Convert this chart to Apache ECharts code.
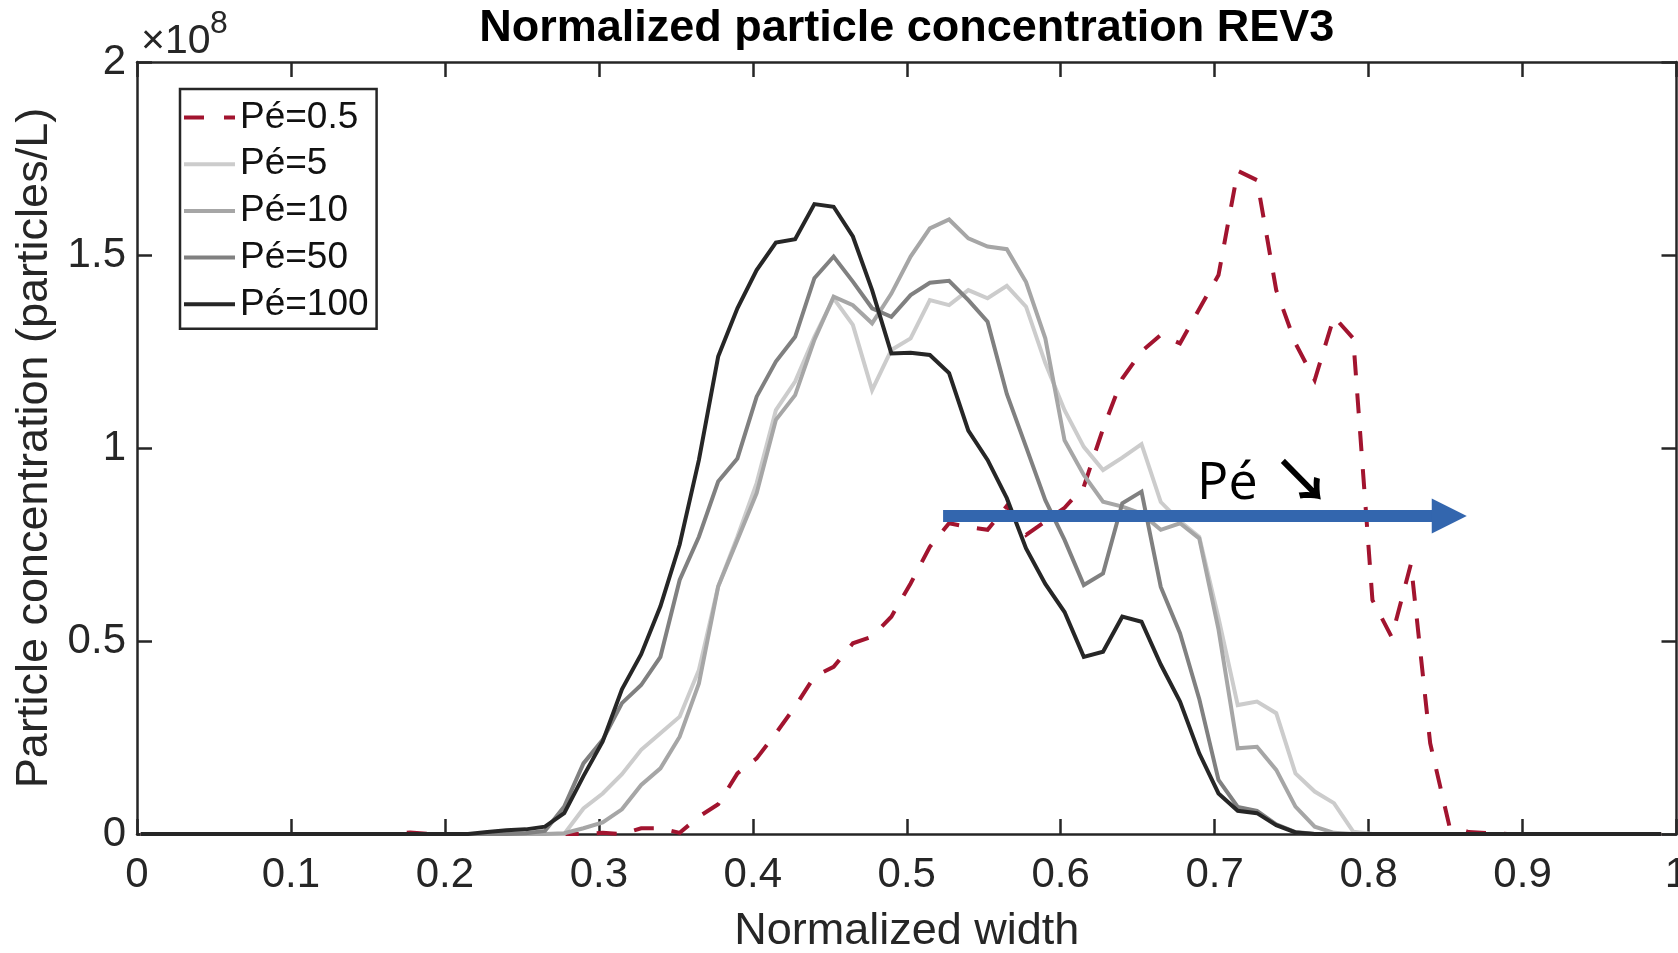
<!DOCTYPE html>
<html>
<head>
<meta charset="utf-8">
<script src="https://cdn.jsdelivr.net/npm/echarts@6/dist/echarts.min.js"></script>
<style>
html,body{margin:0;padding:0;background:#ffffff;}
#main{width:1678px;height:953px;}
</style>
</head>
<body>
<div id="main"></div>
<script>
// ---------------- DATA (concentration in units of 1e8 particles/L) ----------------
const widthPos = [
  0.0025,0.015,0.0275,0.04,0.0525,0.065,0.0775,0.09,0.1025,0.115,
  0.1275,0.14,0.1525,0.165,0.1775,0.19,0.2025,0.215,0.2275,0.24,
  0.2525,0.265,0.2775,0.29,0.3025,0.315,0.3275,0.34,0.3525,0.365,
  0.3775,0.39,0.4025,0.415,0.4275,0.44,0.4525,0.465,0.4775,0.49,
  0.5025,0.515,0.5275,0.54,0.5525,0.565,0.5775,0.59,0.6025,0.615,
  0.6275,0.64,0.6525,0.665,0.6775,0.69,0.7025,0.715,0.7275,0.74,
  0.7525,0.765,0.7775,0.79,0.8025,0.815,0.8275,0.84,0.8525,0.865,
  0.8775,0.89,0.9025,0.915,0.9275,0.94,0.9525,0.965,0.9775,0.99
];
const seriesNames = ['Pé=0.5','Pé=5','Pé=10','Pé=50','Pé=100'];
const pe0_5 = [
  0,0,0,0,0,0,0,0,0,0,
  0,0,0,0,0.004,0,0,0,0,0,
  0,0,0,0,0.003,0,0.015,0.015,0.003,0.045,
  0.077,0.157,0.196,0.261,0.33,0.408,0.433,0.494,0.511,0.563,
  0.649,0.744,0.805,0.795,0.788,0.85,0.775,0.81,0.845,0.90,
  1.05,1.18,1.25,1.293,1.271,1.36,1.448,1.718,1.694,1.409,
  1.271,1.176,1.34,1.284,0.606,0.51,0.70,0.235,0.02,0.005,
  0.002,0,0,0,0,0,0,0,0,0
];
const pe5 = [
  0,0,0,0,0,0,0,0,0,0,
  0,0,0,0,0,0,0,0,0,0,
  0,0,0,0.066,0.105,0.155,0.218,0.261,0.304,0.425,
  0.641,0.77,0.909,1.098,1.172,1.288,1.388,1.319,1.15,1.254,
  1.284,1.383,1.37,1.409,1.388,1.42,1.366,1.22,1.098,1.003,
  0.943,0.975,1.01,0.86,0.81,0.77,0.56,0.334,0.343,0.313,
  0.157,0.11,0.08,0.006,0,0,0,0,0,0,
  0,0,0,0,0,0,0,0,0,0
];
const pe10 = [
  0,0,0,0,0,0,0,0,0,0,
  0,0,0,0,0,0,0,0,0,0,
  0,0,0.002,0.015,0.03,0.064,0.127,0.17,0.252,0.39,
  0.641,0.762,0.883,1.073,1.137,1.28,1.392,1.37,1.323,1.40,
  1.496,1.569,1.592,1.543,1.522,1.515,1.43,1.284,1.02,0.93,
  0.861,0.848,0.83,0.788,0.805,0.766,0.53,0.222,0.226,0.166,
  0.071,0.019,0.003,0,0,0,0,0,0,0,
  0,0,0,0,0,0,0,0,0,0
];
const pe50 = [
  0,0,0,0,0,0,0,0,0,0,
  0,0,0,0,0,0,0,0,0,0,
  0.002,0.008,0.071,0.183,0.244,0.339,0.386,0.459,0.658,0.77,
  0.913,0.973,1.133,1.224,1.288,1.44,1.496,1.431,1.362,1.34,
  1.396,1.428,1.433,1.383,1.327,1.14,1.003,0.865,0.762,0.645,
  0.675,0.857,0.887,0.64,0.52,0.35,0.14,0.07,0.06,0.025,
  0.005,0,0,0,0,0,0,0,0,0,
  0,0,0,0,0,0,0,0,0,0
];
const pe100 = [
  0,0,0,0,0,0,0,0,0,0,
  0,0,0,0,0,0,0,0,0.005,0.01,
  0.012,0.019,0.054,0.15,0.24,0.375,0.466,0.59,0.75,0.969,
  1.237,1.362,1.461,1.532,1.541,1.632,1.625,1.548,1.409,1.245,
  1.247,1.241,1.194,1.045,0.969,0.87,0.74,0.648,0.575,0.459,
  0.472,0.563,0.55,0.439,0.343,0.209,0.105,0.06,0.054,0.023,
  0.004,0,0,0,0,0,0,0,0,0,
  0,0,0,0,0,0,0,0,0,0
];
const xTickLabels = ['0','0.1','0.2','0.3','0.4','0.5','0.6','0.7','0.8','0.9','1'];
const yTickLabels = ['0','0.5','1','1.5','2'];
const yExponent = '8';
// annotation arrow (data coordinates) and its label
const arrowX = [0.5236, 0.8524];
const arrowY = 0.824;
const annotPos = [0.6886, 0.906];
const annotGlyphPos = [0.7565, 0.916];
const annotText = 'Pé';
const annotGlyph = '↘';
const titleText = 'Normalized particle concentration REV3';

// ---------------- STYLE ----------------
const FONT = '"Liberation Sans", Arial, Helvetica, sans-serif';
const AX = '#262626';
const colors = ['#a2142f', '#cccccc', '#a6a6a6', '#808080', '#262626'];
const lineTypes = [[20, 18], 'solid', 'solid', 'solid', 'solid'];
const LW = 4;
const solidIcon = 'path://M0,0 M0,16.5 h51 v4 h-51 Z M51,37';
const dashIcon = 'path://M0,0 M0,16.5 h20 v4 h-20 Z M40,16.5 h11 v4 h-11 Z M51,37';
const legendIcons = [dashIcon, solidIcon, solidIcon, solidIcon, solidIcon];

const allValues = [pe0_5, pe5, pe10, pe50, pe100];

const chart = echarts.init(document.getElementById('main'), null, {renderer: 'canvas'});

function axisCommon(pos, showLabel) {
  return {
    type: 'value',
    position: pos,
    axisLine: {show: true, onZero: false, lineStyle: {color: AX, width: 2.5}},
    axisTick: {show: true, inside: true, length: 15, lineStyle: {color: AX, width: 2.5}},
    splitLine: {show: false},
    axisLabel: {show: showLabel}
  };
}

const xBottom = Object.assign(axisCommon('bottom', true), {
  min: 0, max: 1, interval: 0.1,
  axisLabel: {
    show: true, fontSize: 42, color: AX, fontFamily: FONT, margin: 20,
    showMinLabel: true, showMaxLabel: true,
    formatter: (v) => xTickLabels[Math.round(v * 10)]
  },
  name: 'Normalized width', nameLocation: 'middle', nameGap: 75,
  nameTextStyle: {fontSize: 45, color: AX, fontFamily: FONT}
});
const xTop = Object.assign(axisCommon('top', false), {min: 0, max: 1, interval: 0.1});
const yLeft = Object.assign(axisCommon('left', true), {
  min: 0, max: 2, interval: 0.5,
  axisLabel: {
    show: true, fontSize: 42, color: AX, fontFamily: FONT, margin: 11,
    showMinLabel: true, showMaxLabel: true,
    formatter: (v) => yTickLabels[Math.round(v * 2)]
  },
  name: 'Particle concentration (particles/L)', nameLocation: 'middle', nameGap: 75, nameRotate: 90,
  nameTextStyle: {fontSize: 45, color: AX, fontFamily: FONT}
});
const yRight = Object.assign(axisCommon('right', false), {min: 0, max: 2, interval: 0.5});

const series = seriesNames.map((name, k) => ({
  name: name,
  type: 'line',
  xAxisIndex: 0,
  yAxisIndex: 0,
  data: widthPos.map((x, i) => [x, allValues[k][i]]),
  symbol: 'none',
  showSymbol: false,
  smooth: false,
  animation: false,
  lineStyle: {color: colors[k], width: LW, type: lineTypes[k], cap: 'butt', join: 'miter'},
  itemStyle: {color: colors[k]},
  emphasis: {disabled: true}
}));

series[series.length - 1].markLine = {
  silent: true,
  animation: false,
  symbol: ['none', 'triangle'],
  symbolSize: [35, 35],
  label: {show: false},
  lineStyle: {color: '#3366ae', width: 12, type: 'solid'},
  itemStyle: {color: '#3366ae'},
  emphasis: {disabled: true},
  data: [[{coord: [arrowX[0], arrowY]}, {coord: [arrowX[1], arrowY]}]]
};

const option = {
  animation: false,
  backgroundColor: '#ffffff',
  grid: {left: 137, right: 1.5, top: 62, bottom: 119, containLabel: false, outerBoundsMode: 'none'},
  xAxis: [xBottom, xTop],
  yAxis: [yLeft, yRight],
  legend: {
    data: seriesNames.map((n, k) => ({name: n, icon: legendIcons[k]})),
    orient: 'vertical',
    left: 180, top: 89,
    padding: [10, 8, 6, 4],
    itemWidth: 51, itemHeight: 37, itemGap: 9.7,
    borderColor: AX, borderWidth: 2.5,
    backgroundColor: '#ffffff',
    selectedMode: false,
    textStyle: {fontSize: 37, color: '#111111', fontFamily: FONT}
  },
  series: series
};
chart.setOption(option);

const tl = chart.convertToPixel({xAxisIndex: 0, yAxisIndex: 0}, [0, 2]);
const br = chart.convertToPixel({xAxisIndex: 0, yAxisIndex: 0}, [1, 0]);
const ap = chart.convertToPixel({xAxisIndex: 0, yAxisIndex: 0}, annotPos);
const gp = chart.convertToPixel({xAxisIndex: 0, yAxisIndex: 0}, annotGlyphPos);

chart.setOption({
  graphic: [
    {type: 'text', x: (tl[0] + br[0]) / 2, y: 29, silent: true,
     style: {text: titleText, fontSize: 45, fontWeight: 'bold', fontFamily: FONT, fill: '#000000',
             align: 'center', verticalAlign: 'middle'}},
    {type: 'text', x: tl[0] + 4, y: 41.5, silent: true,
     style: {text: '×10', fontSize: 41, fontFamily: FONT, fill: AX, align: 'left', verticalAlign: 'middle'}},
    {type: 'text', x: tl[0] + 73, y: 24, silent: true,
     style: {text: yExponent, fontSize: 32, fontFamily: FONT, fill: AX, align: 'left', verticalAlign: 'middle'}},
    {type: 'text', x: ap[0], y: ap[1], silent: true, z: 20,
     style: {text: annotText, fontSize: 52, fontFamily: '"Open Sans", "DejaVu Sans", sans-serif', fill: '#000000',
             align: 'left', verticalAlign: 'middle'}},
    {type: 'text', x: gp[0], y: gp[1], silent: true, z: 20,
     style: {text: annotGlyph, fontSize: 58, fontWeight: 'bold', fontFamily: '"Noto Sans CJK JP", "DejaVu Sans", sans-serif', fill: '#000000',
             align: 'center', verticalAlign: 'middle'}}
  ]
});
</script>
</body>
</html>
